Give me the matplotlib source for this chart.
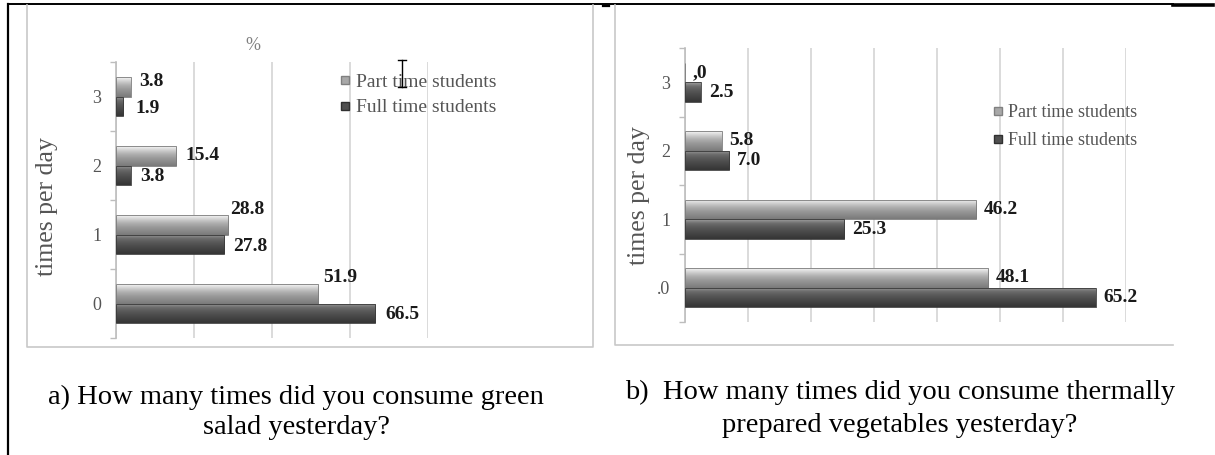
import numpy as np
import matplotlib
matplotlib.use("Agg")
import matplotlib.pyplot as plt
from matplotlib.colors import LinearSegmentedColormap
from matplotlib.lines import Line2D

# ---------------- data ----------------
categories_a = ["0", "1", "2", "3"]
part_a = [51.9, 28.8, 15.4, 3.8]
full_a = [66.5, 27.8, 3.8, 1.9]

categories_b = [".0", "1", "2", "3"]
part_b = [48.1, 46.2, 5.8, 0.0]
full_b = [65.2, 25.3, 7.0, 2.5]

series_names = ["Part time students", "Full time students"]
caption_a = ["a) How many times did you consume green", "salad yesterday?"]
caption_b = ["b)  How many times did you consume thermally", "prepared vegetables yesterday?"]
ylabel = "times per day"

# ---------------- style ----------------
W, H = 1215, 455
DPI = 100
SERIF = ["Liberation Serif", "DejaVu Serif"]
plt.rcParams["font.family"] = SERIF

PART_GRAD = ["#f6f6f6", "#d0d0d0", "#b0b0b0", "#9a9a9a", "#8a8a8a", "#7a7a7a"]
FULL_GRAD = ["#a0a0a0", "#6e6e6e", "#5a5a5a", "#4c4c4c", "#404040", "#353535"]
GRID = "#d4d4d4"
AXC = "#bdbdbd"
TXT = "#555555"

fig = plt.figure(figsize=(W / DPI, H / DPI), dpi=DPI)
fig.patch.set_facecolor("white")


def px_axes(x0, y0, x1, y1):
    return fig.add_axes([x0 / W, 1 - y1 / H, (x1 - x0) / W, (y1 - y0) / H])


def fig_line(xs, ys, **kw):
    fig.add_artist(Line2D([x / W for x in xs], [1 - y / H for y in ys],
                          transform=fig.transFigure, **kw))


def gradient_fill(ax, rect, colors):
    w = rect.get_width()
    if w <= 0:
        return
    x0, y0, h = rect.get_x(), rect.get_y(), rect.get_height()
    cmap = LinearSegmentedColormap.from_list("g", colors)
    grad = np.linspace(0, 1, 64).reshape(-1, 1)
    im = ax.imshow(grad, extent=[x0, x0 + w, y0, y0 + h], cmap=cmap,
                   aspect="auto", zorder=3, interpolation="bilinear")
    im.set_clip_path(rect)


def draw_chart(ax, cats, part, full, xmax, step, label_nudges, legend_pos, legend_fs):
    y = np.arange(len(cats))
    bh = 0.285
    bars_p = ax.barh(y + bh / 2, part, height=bh, facecolor="none",
                     edgecolor="#7a7a7a", linewidth=0.6, zorder=4)
    bars_f = ax.barh(y - bh / 2, full, height=bh, facecolor="none",
                     edgecolor="#3a3a3a", linewidth=0.6, zorder=4)
    for r in bars_p:
        gradient_fill(ax, r, PART_GRAD)
    for r in bars_f:
        gradient_fill(ax, r, FULL_GRAD)

    ax.set_xlim(0, xmax)
    ax.set_ylim(-0.5, len(cats) - 0.5)
    ax.set_aspect("auto")
    ax.set_xticks(np.arange(0, xmax + 0.1, step))
    ax.set_xticklabels([])
    ax.tick_params(axis="x", length=0)
    ax.xaxis.grid(True, color=GRID, linewidth=1.2, zorder=0)
    ax.set_axisbelow(True)
    ax.set_yticks(y)
    ax.set_yticklabels(cats, fontsize=13, color=TXT)
    ax.set_yticks(np.arange(-0.5, len(cats)), minor=True)
    ax.tick_params(axis="y", which="major", length=0, pad=10.5)
    ax.tick_params(axis="y", which="minor", length=4, color=AXC, width=1)
    for s in ["top", "right", "bottom"]:
        ax.spines[s].set_visible(False)
    ax.spines["left"].set_color(AXC)
    ax.spines["left"].set_linewidth(1.2)

    for i, (bp, bf) in enumerate(zip(bars_p, bars_f)):
        for kind, b, v in (("p", bp, part[i]), ("f", bf, full[i])):
            dx, dy = label_nudges.get((kind, i), (8, 0))
            txt = ",0" if v == 0 else f"{v:.1f}"
            ax.annotate(txt, (b.get_width(), b.get_y() + b.get_height() / 2),
                        xytext=(dx, dy), textcoords="offset pixels",
                        ha="left", va="center", fontsize=14,
                        fontweight="bold", color="#1a1a1a", zorder=6)

    handles = [Line2D([], [], marker="s", linestyle="none", markersize=6,
                      markerfacecolor="#a8a8a8", markeredgecolor="#808080"),
               Line2D([], [], marker="s", linestyle="none", markersize=6,
                      markerfacecolor="#505050", markeredgecolor="#303030")]
    lx, ly, sp = legend_pos
    ax.legend(handles, series_names, loc="upper left",
              bbox_to_anchor=(lx / W, 1 - ly / H), bbox_transform=fig.transFigure,
              frameon=False, fontsize=legend_fs, handlelength=0.6, handletextpad=0.25,
              borderpad=0, borderaxespad=0, labelspacing=sp, labelcolor=TXT)


# ---------------- frames ----------------
fig_line([8, 8], [4, 455], color="black", linewidth=1.6)
fig_line([8, 1173], [4, 4], color="black", linewidth=1.4)
fig_line([1173, 1213], [5, 5], color="black", linewidth=2.6)
fig_line([603, 609], [6, 6], color="black", linewidth=1.6)
fig_line([27, 27, 593, 593], [5, 347, 347, 5], color="#c8c8c8", linewidth=1.2)
fig_line([615, 615, 1173], [5, 345, 345], color="#c8c8c8", linewidth=1.2)

# ---------------- left chart ----------------
ax1 = px_axes(116, 62, 428, 338)
nudges_a = {("p", 0): (5, 16), ("p", 1): (2, 15), ("p", 2): (9, 0), ("p", 3): (8, 5),
            ("f", 0): (10, -1), ("f", 1): (9, -2), ("f", 2): (9, -1), ("f", 3): (12, -2)}
draw_chart(ax1, categories_a, part_a, full_a, 80, 20, nudges_a, (339, 73, 0.42), 14)
ax1.set_ylabel(ylabel, fontsize=18.5, color=TXT)
ax1.yaxis.set_label_coords((58 - 116) / 312, (338 - 207) / 276)
fig.text(253 / W, 1 - 46 / H, "%", ha="center", va="center", fontsize=13, color="#7f7f7f")
fig_line([402, 402], [60, 87], color="black", linewidth=1)
fig_line([398, 406], [60, 60], color="black", linewidth=1)
fig_line([398, 406], [87, 87], color="black", linewidth=1)

# ---------------- right chart ----------------
ax2 = px_axes(685, 48, 1126, 322)
draw_chart(ax2, categories_b, part_b, full_b, 70, 10, {}, (993, 104, 0.6), 13)
ax2.set_ylabel(ylabel, fontsize=18.5, color=TXT)
ax2.yaxis.set_label_coords((650 - 685) / 441, (322 - 196) / 274)

# ---------------- captions ----------------
fig.text(296 / W, 1 - 397 / H, caption_a[0], ha="center", va="center", fontsize=20.5, color="black")
fig.text(296 / W, 1 - 428 / H, caption_a[1], ha="center", va="center", fontsize=20.5, color="black")
fig.text(900 / W, 1 - 392 / H, caption_b[0], ha="center", va="center", fontsize=20.5, color="black")
fig.text(900 / W, 1 - 425 / H, caption_b[1], ha="center", va="center", fontsize=20.5, color="black")

fig.savefig("out.png", dpi=DPI)
